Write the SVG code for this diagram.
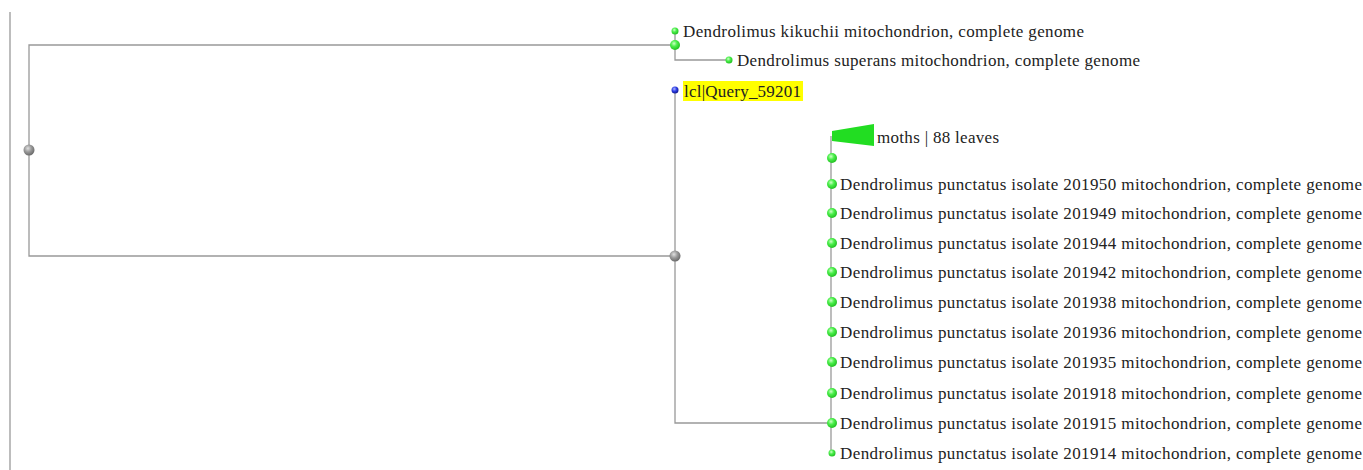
<svg xmlns="http://www.w3.org/2000/svg" width="1363" height="470" viewBox="0 0 1363 470">
<defs>
<radialGradient id="gGreen" cx="0.4" cy="0.35" r="0.65">
<stop offset="0" stop-color="#d0ffc8"/>
<stop offset="0.45" stop-color="#4cf04c"/>
<stop offset="1" stop-color="#22c022"/>
</radialGradient>
<radialGradient id="gGray" cx="0.4" cy="0.35" r="0.65">
<stop offset="0" stop-color="#e0e0e0"/>
<stop offset="0.5" stop-color="#9a9a9a"/>
<stop offset="1" stop-color="#6a6a6a"/>
</radialGradient>
<radialGradient id="gBlue" cx="0.4" cy="0.35" r="0.65">
<stop offset="0" stop-color="#b0b8ff"/>
<stop offset="0.5" stop-color="#3040e8"/>
<stop offset="1" stop-color="#101890"/>
</radialGradient>
</defs>
<style>
.ln{stroke:#999;stroke-width:1.3;fill:none}
.lbl{font-family:"Liberation Serif","Times New Roman",serif;font-size:17px;fill:#222}
.g{fill:url(#gGreen)}
.gr{fill:url(#gGray)}
.bl{fill:url(#gBlue)}
</style>
<rect width="1363" height="470" fill="#fff"/>
<g id="connectors">
<line class="ln" x1="10" y1="12" x2="10" y2="470"/>
<path class="ln" d="M675,45 H29 V256 H675"/>
<path class="ln" d="M675,31 V60 H729"/>
<path class="ln" d="M675,90 V423 H831"/>
<path class="ln" d="M831,136 V453"/>
</g>
<g id="root"><circle class="gr" cx="29" cy="150" r="5.5"/></g>
<g id="node-kikuchii-clade"><circle class="g" cx="675" cy="45" r="5"/></g>
<g id="leaf-kikuchii"><circle class="g" cx="675" cy="31" r="3.5"/><text class="lbl" x="683" y="37" textLength="401" lengthAdjust="spacing">Dendrolimus kikuchii mitochondrion, complete genome</text></g>
<g id="leaf-superans"><circle class="g" cx="729" cy="60" r="3.5"/><text class="lbl" x="737" y="66" textLength="403" lengthAdjust="spacing">Dendrolimus superans mitochondrion, complete genome</text></g>
<g id="leaf-query"><rect x="683" y="81" width="120" height="20" fill="#ffff00"/><circle class="bl" cx="675" cy="90" r="3.5"/><text class="lbl" x="684" y="97" textLength="117" lengthAdjust="spacing">lcl|Query_59201</text></g>
<g id="node-lower"><circle class="gr" cx="675" cy="256" r="5.5"/></g>
<g id="collapsed-moths"><polygon points="832,131 874,124 874,146 832,141" fill="#22dd22"/><text class="lbl" x="877" y="143" textLength="122" lengthAdjust="spacing">moths | 88 leaves</text></g>
<g id="node-157"><circle class="g" cx="832" cy="158" r="5"/></g>
<g id="leaf-201950"><circle class="g" cx="832" cy="184" r="5"/><text class="lbl" x="840" y="190" textLength="522" lengthAdjust="spacing">Dendrolimus punctatus isolate 201950 mitochondrion, complete genome</text></g>
<g id="leaf-201949"><circle class="g" cx="832" cy="213" r="5"/><text class="lbl" x="840" y="219" textLength="522" lengthAdjust="spacing">Dendrolimus punctatus isolate 201949 mitochondrion, complete genome</text></g>
<g id="leaf-201944"><circle class="g" cx="832" cy="243" r="5"/><text class="lbl" x="840" y="249" textLength="522" lengthAdjust="spacing">Dendrolimus punctatus isolate 201944 mitochondrion, complete genome</text></g>
<g id="leaf-201942"><circle class="g" cx="832" cy="272" r="5"/><text class="lbl" x="840" y="278" textLength="522" lengthAdjust="spacing">Dendrolimus punctatus isolate 201942 mitochondrion, complete genome</text></g>
<g id="leaf-201938"><circle class="g" cx="832" cy="302" r="5"/><text class="lbl" x="840" y="308" textLength="522" lengthAdjust="spacing">Dendrolimus punctatus isolate 201938 mitochondrion, complete genome</text></g>
<g id="leaf-201936"><circle class="g" cx="832" cy="332" r="5"/><text class="lbl" x="840" y="338" textLength="522" lengthAdjust="spacing">Dendrolimus punctatus isolate 201936 mitochondrion, complete genome</text></g>
<g id="leaf-201935"><circle class="g" cx="832" cy="362" r="5"/><text class="lbl" x="840" y="368" textLength="522" lengthAdjust="spacing">Dendrolimus punctatus isolate 201935 mitochondrion, complete genome</text></g>
<g id="leaf-201918"><circle class="g" cx="832" cy="393" r="5"/><text class="lbl" x="840" y="399" textLength="522" lengthAdjust="spacing">Dendrolimus punctatus isolate 201918 mitochondrion, complete genome</text></g>
<g id="leaf-201915"><circle class="g" cx="832" cy="423" r="5"/><text class="lbl" x="840" y="429" textLength="522" lengthAdjust="spacing">Dendrolimus punctatus isolate 201915 mitochondrion, complete genome</text></g>
<g id="leaf-201914"><circle class="g" cx="832" cy="453" r="3.5"/><text class="lbl" x="840" y="459" textLength="522" lengthAdjust="spacing">Dendrolimus punctatus isolate 201914 mitochondrion, complete genome</text></g>
</svg>
